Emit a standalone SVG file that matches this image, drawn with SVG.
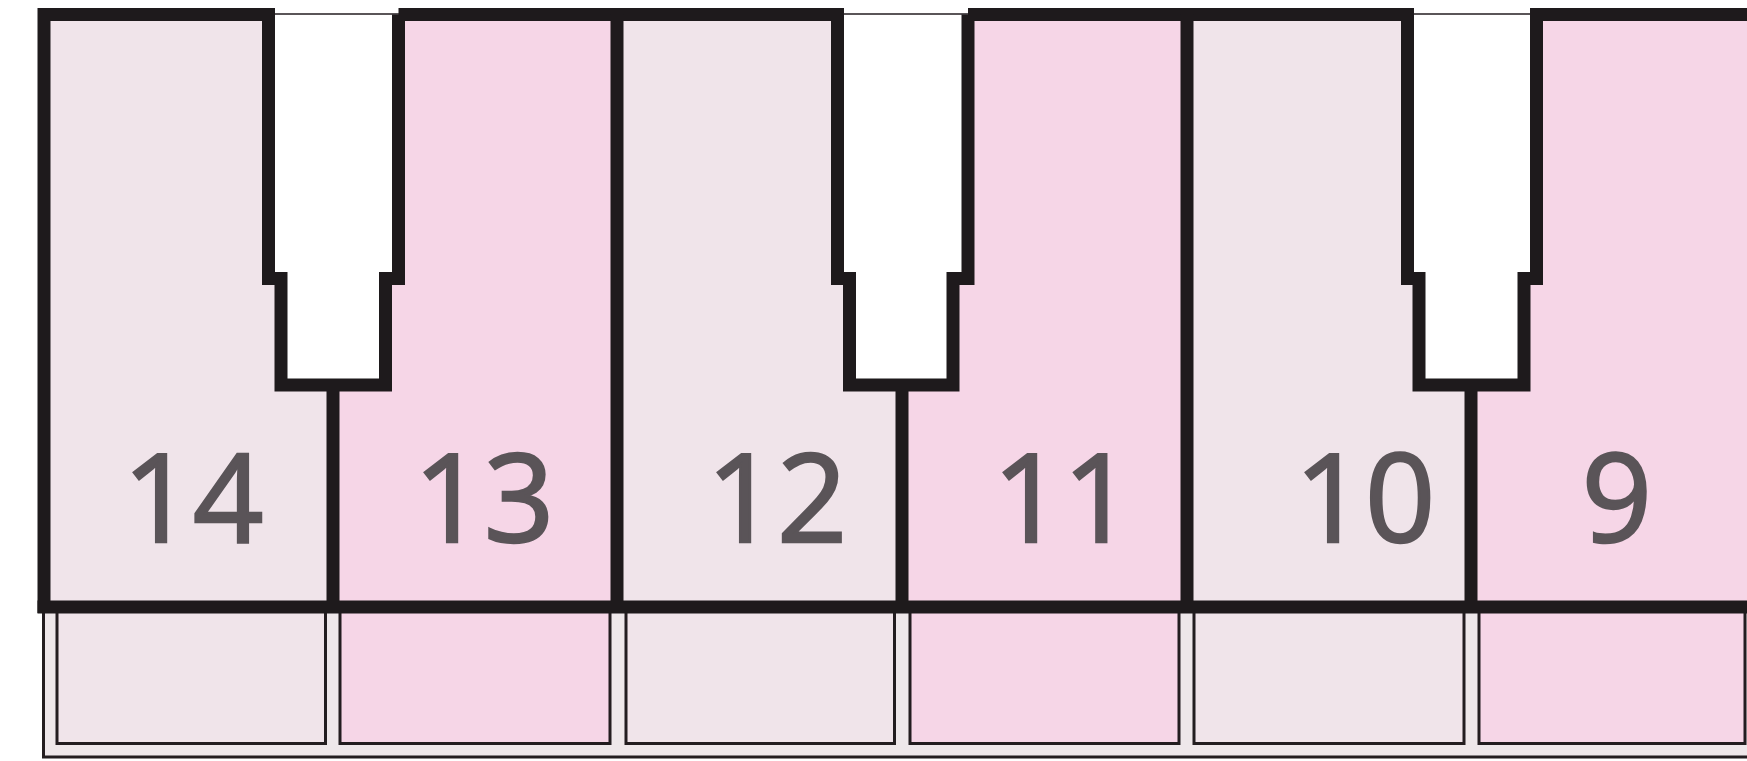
<svg xmlns="http://www.w3.org/2000/svg" width="1747" height="761" viewBox="0 0 1747 761">
<style>
.thick{fill:none;stroke:#1e1a1c;stroke-width:13;stroke-linejoin:miter;stroke-linecap:butt}
.thin{stroke:#231d20;stroke-width:3}
.hair{fill:none;stroke:#231d20;stroke-width:1.6}
.light{fill:#f0e4ea}
.dark{fill:#f6d6e7}
.band{fill:#eee7ea}
.slot{fill:#ffffff}
.num{font-family:"Open Sans","Noto Sans","Liberation Sans",sans-serif;font-size:123px;fill:#5a5458;stroke:#5a5458;stroke-width:2.5;text-anchor:middle}
</style>
<rect width="1747" height="761" fill="#ffffff"/>
<rect class="band thin" x="43.5" y="607" width="1720" height="150"/>
<g id="key14">
  <rect class="light" x="44" y="14" width="289" height="593"/>
  <rect class="thin light" x="57" y="607" width="268.5" height="136.5"/>
  <text class="num" x="193" y="542">14</text>
</g>
<g id="key13">
  <rect class="dark" x="333" y="14" width="284" height="593"/>
  <rect class="thin dark" x="340" y="607" width="270" height="136.5"/>
  <text class="num" x="484" y="542">13</text>
</g>
<g id="key12">
  <rect class="light" x="617" y="14" width="285" height="593"/>
  <rect class="thin light" x="626" y="607" width="268.5" height="136.5"/>
  <text class="num" x="777" y="542">12</text>
</g>
<g id="key11">
  <rect class="dark" x="902" y="14" width="285" height="593"/>
  <rect class="thin dark" x="910" y="607" width="269" height="136.5"/>
  <text class="num" x="1063" y="542">11</text>
</g>
<g id="key10">
  <rect class="light" x="1187" y="14" width="284" height="593"/>
  <rect class="thin light" x="1194" y="607" width="270" height="136.5"/>
  <text class="num" x="1365" y="542">10</text>
</g>
<g id="key9">
  <rect class="dark" x="1471" y="14" width="290" height="593"/>
  <rect class="thin dark" x="1479" y="607" width="266" height="136.5"/>
  <text class="num" x="1617" y="542">9</text>
</g>
<g id="slots">
  <path class="slot" d="M268.5,14 H398.5 V278.5 H385.5 V385 H281 V278.5 H268.5 Z"/>
  <path class="slot" d="M837.5,14 H968 V278.5 H953 V385 H849.5 V278.5 H837.5 Z"/>
  <path class="slot" d="M1407.5,14 H1536.5 V278.5 H1524 V385 H1419 V278.5 H1407.5 Z"/>
</g>
<g id="connectors">
  <line class="hair" x1="268" y1="14" x2="399" y2="14"/>
  <line class="hair" x1="837" y1="14" x2="968" y2="14"/>
  <line class="hair" x1="1407" y1="14" x2="1537" y2="14"/>
  <path class="thick" d="M44,613 V14.5 H268.5 V278.5 H281 V385 H385.5 V278.5 H398.5 V14.5"/>
  <path class="thick" d="M398.5,14.5 H837.5 V278.5 H849.5 V385 H953 V278.5 H968 V14.5"/>
  <path class="thick" d="M968,14.5 H1407.5 V278.5 H1419 V385 H1524 V278.5 H1536.5 V14.5 H1760"/>
  <path class="thick" d="M37.5,607 H1760"/>
  <path class="thick" d="M617,14.5 V607"/>
  <path class="thick" d="M1187,14.5 V607"/>
  <path class="thick" d="M333,385 V607"/>
  <path class="thick" d="M902,385 V607"/>
  <path class="thick" d="M1471,385 V607"/>
</g>
</svg>
